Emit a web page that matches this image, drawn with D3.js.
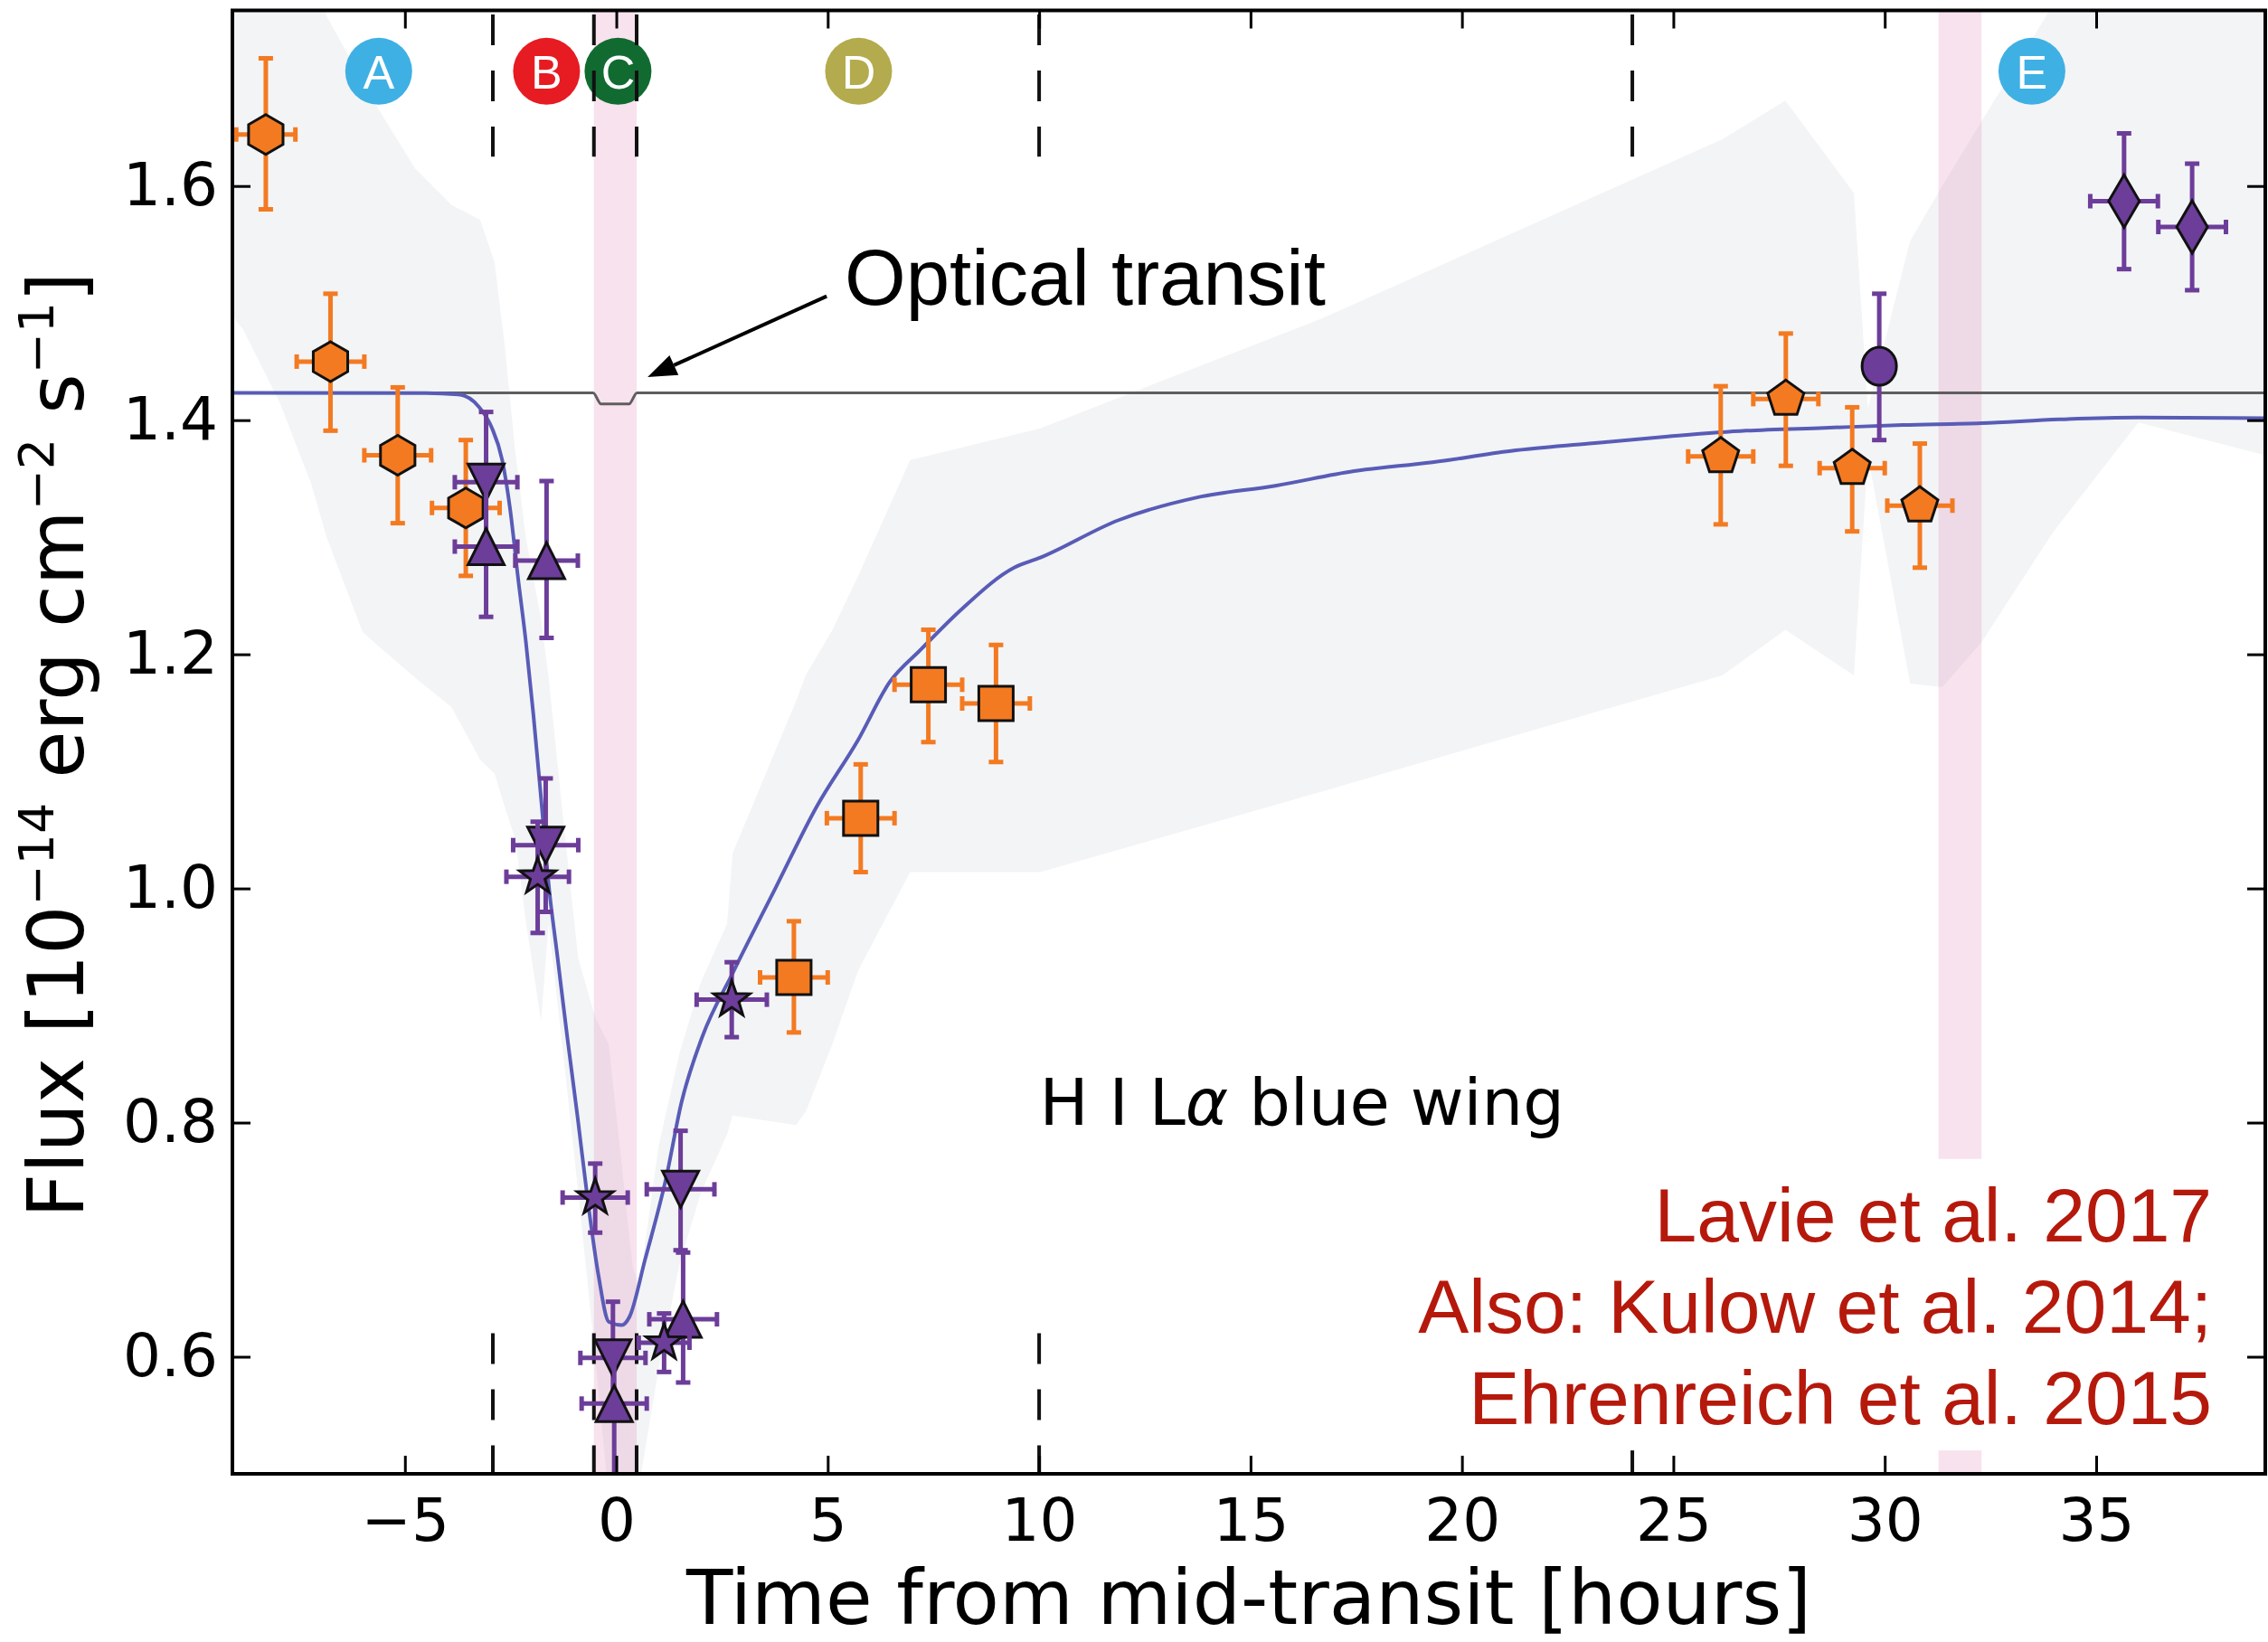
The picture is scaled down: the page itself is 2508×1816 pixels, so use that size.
<!DOCTYPE html>
<html>
<head>
<meta charset="utf-8">
<script src="https://cdn.jsdelivr.net/npm/d3@7"></script>
<style>
  html, body { margin: 0; padding: 0; background: #fff; }
  svg { display: block; }
  text { white-space: pre; }
</style>
</head>
<body>
<div id="chart"></div>
<script>
// ---- axis ticks ----
const timeTicks = [-5, 0, 5, 10, 15, 20, 25, 30, 35];
const fluxTicks = [0.6, 0.8, 1.0, 1.2, 1.4, 1.6];

// ---- model light curve (blue line), [hours, flux] ----
const modelCurve = [
  [-9.08, 1.4234], [-4.5, 1.4232], [-3.74, 1.422], [-3.25, 1.4114], [-2.95, 1.394],
  [-2.70, 1.366], [-2.51, 1.3235], [-2.33, 1.267], [-2.14, 1.211], [-1.96, 1.148],
  [-1.78, 1.077], [-1.59, 1.000], [-1.40, 0.944], [-1.16, 0.873], [-0.91, 0.803],
  [-0.67, 0.732], [-0.42, 0.669], [-0.18, 0.630], [0.13, 0.627], [0.31, 0.634],
  [0.68, 0.683], [1.18, 0.753], [1.54, 0.817], [2.03, 0.873], [2.77, 0.929],
  [3.76, 1.000], [4.74, 1.070], [5.72, 1.127], [6.46, 1.176], [7.20, 1.204],
  [8.18, 1.239], [9.41, 1.274], [10.03, 1.2826], [11.88, 1.3146], [13.74, 1.334],
  [15.59, 1.344], [17.45, 1.3565], [19.30, 1.364], [21.16, 1.3737], [23.01, 1.380],
  [24.87, 1.386], [26.72, 1.391], [28.57, 1.3934], [30.43, 1.3958], [32.28, 1.3974],
  [34.14, 1.4007], [35.99, 1.4022], [39.0, 1.4017]
];

// ---- optical transit (grey line) ----
const opticalCurve = [
  [-9.08, 1.4234], [-0.55, 1.4234], [-0.36, 1.4138], [0.30, 1.4138], [0.49, 1.4234], [39.0, 1.4234]
];

// ---- model envelope, [hours, lower, upper] ----
const envelope = [
  [-9.1, 1.49, 1.80], [-8.82, 1.477, 1.80], [-7.96, 1.415, 1.80], [-7.22, 1.346, 1.78],
  [-6.85, 1.30, 1.745], [-6.0, 1.219, 1.69], [-5.75, 1.211, 1.673], [-4.76, 1.18, 1.615],
  [-3.90, 1.155, 1.584], [-3.22, 1.11, 1.571], [-2.88, 1.098, 1.535], [-2.64, 1.07, 1.464],
  [-2.39, 1.042, 1.373], [-2.14, 0.972, 1.30], [-1.78, 0.887, 1.23], [-1.60, 0.97, 1.18],
  [-1.20, 0.84, 1.04], [-0.90, 0.74, 0.94], [-0.50, 0.60, 0.89], [-0.18, 0.48, 0.867],
  [0.39, 0.45, 0.676], [0.54, 0.49, 0.66], [1.0, 0.59, 0.78], [1.5, 0.68, 0.86],
  [2.0, 0.74, 0.92], [2.62, 0.79, 0.97], [2.75, 0.806, 1.03], [4.25, 0.798, 1.16],
  [4.49, 0.81, 1.183], [5.10, 0.866, 1.22], [5.72, 0.93, 1.267], [6.95, 1.014, 1.366],
  [10.03, 1.014, 1.393], [16.7, 1.083, 1.487], [26.16, 1.182, 1.64], [27.65, 1.221, 1.673],
  [29.27, 1.182, 1.594], [29.6, 1.37, 1.41], [30.6, 1.175, 1.553], [31.36, 1.172, 1.60],
  [32.3, 1.211, 1.656], [33.9, 1.30, 1.75], [34.1, 1.31, 1.80], [36.0, 1.398, 1.80],
  [39.1, 1.369, 1.80]
];

// ---- shaded transit windows [start, end] in hours ----
const transitBands = [[-0.53, 0.48], [31.27, 32.29]];

// ---- dashed phase boundaries (hours) ----
const phaseBounds = [-2.92, -0.53, 0.48, 10.0, 24.03];

// ---- phase labels ----
const phaseNames = ["A", "B", "C", "D", "E"];
const phaseTimes = [-5.62, -1.65, 0.04, 5.73, 33.48];
const phaseColors = ["#3fb0e4", "#e71b22", "#116b31", "#b3ab4d", "#3fb0e4"];

// ---- observations: [hours, flux, hoursErr, fluxErrDown, fluxErrUp] ----
const orangeHexagons = [
  [-8.29, 1.644, 0.70, 0.064, 0.065],
  [-6.76, 1.450, 0.80, 0.059, 0.058],
  [-5.17, 1.370, 0.79, 0.058, 0.058],
  [-3.56, 1.325, 0.80, 0.058, 0.058]
];
const orangeSquares = [
  [4.20, 0.924, 0.80, 0.047, 0.048],
  [5.78, 1.060, 0.80, 0.046, 0.046],
  [7.38, 1.174, 0.80, 0.049, 0.047],
  [8.98, 1.158, 0.80, 0.050, 0.050]
];
const orangePentagons = [
  [26.12, 1.369, 0.77, 0.058, 0.060],
  [27.66, 1.418, 0.77, 0.057, 0.056],
  [29.23, 1.359, 0.77, 0.054, 0.052],
  [30.83, 1.327, 0.77, 0.053, 0.053]
];
const purpleDown = [
  [-3.08, 1.347, 0.74, 0.060, 0.060],
  [-1.67, 1.037, 0.77, 0.057, 0.057],
  [-0.08, 0.599, 0.77, 0.048, 0.048],
  [1.52, 0.743, 0.80, 0.052, 0.050]
];
const purpleUp = [
  [-3.08, 1.292, 0.74, 0.060, 0.058],
  [-1.65, 1.280, 0.74, 0.066, 0.068],
  [-0.05, 0.560, 0.77, 0.070, 0.045],
  [1.58, 0.632, 0.80, 0.054, 0.057]
];
const purpleStars = [
  [-1.86, 1.010, 0.74, 0.048, 0.047],
  [-0.50, 0.736, 0.77, 0.030, 0.029],
  [1.13, 0.612, 0.60, 0.025, 0.025],
  [2.73, 0.905, 0.83, 0.032, 0.032]
];
const purpleCircles = [
  [29.87, 1.446, 0, 0.063, 0.062]
];
const purpleDiamonds = [
  [35.66, 1.587, 0.80, 0.058, 0.058],
  [37.27, 1.565, 0.80, 0.054, 0.054]
];

// ---- text annotations (data coordinates) ----
const arrowTail = [4.975, 1.5058];
const arrowTip = [0.74, 1.4368];
const opticalLabelPos = [5.40, 1.4986];
const lineLabelPos = [10.01, 0.798];
const creditLines = ["Lavie et al. 2017", "Also: Kulow et al. 2014;", "Ehrenreich et al. 2015"];
const creditBaselines = [0.6983, 0.6207, 0.5423];
const creditRight = 37.74;
const creditBox = [18.1, 39.1, 0.520, 0.769];

const orange = "#f37a21";
const purple = "#6c3d99";

const W = 2508, H = 1816;
const margin = { top: 11.5, right: 3, bottom: 186, left: 257 };

const x = d3.scaleLinear().domain([-9.08, 39.0]).range([margin.left, W - margin.right]);
const y = d3.scaleLinear().domain([0.5, 1.75]).range([H - margin.bottom, margin.top]);

const svg = d3.select("#chart").append("svg")
  .attr("width", W)
  .attr("height", H);

svg.append("defs").append("clipPath").attr("id", "plot-clip")
  .append("rect")
  .attr("x", margin.left).attr("y", margin.top)
  .attr("width", W - margin.left - margin.right)
  .attr("height", H - margin.top - margin.bottom);

const plot = svg.append("g").attr("clip-path", "url(#plot-clip)");

// envelope
const area = d3.area()
  .x(d => x(d[0]))
  .y0(d => y(d[1]))
  .y1(d => y(d[2]));
plot.append("path").datum(envelope)
  .attr("d", area)
  .attr("fill", "#f3f4f6");

// transit bands
plot.selectAll(".band").data(transitBands).enter().append("rect")
  .attr("class", "band")
  .attr("x", d => x(d[0]))
  .attr("width", d => x(d[1]) - x(d[0]))
  .attr("y", y(1.75))
  .attr("height", y(0.5) - y(1.75))
  .attr("fill", "#dd6eaa")
  .attr("fill-opacity", 0.2);

// phase circles
const phases = plot.selectAll(".phase").data(phaseNames).enter().append("g")
  .attr("class", "phase")
  .attr("transform", (d, i) => `translate(${x(phaseTimes[i])},${y(1.698)})`);
phases.append("circle").attr("r", 37).attr("fill", (d, i) => phaseColors[i]);
phases.append("text")
  .attr("text-anchor", "middle")
  .attr("dy", "0.36em")
  .attr("fill", "#fff")
  .style("font-family", "Liberation Sans, Arial, sans-serif")
  .style("font-size", "52px")
  .text(d => d);

// dashed phase boundaries
phaseBounds.forEach(t => {
  plot.append("line")
    .attr("x1", x(t)).attr("x2", x(t))
    .attr("y1", y(1.75)).attr("y2", y(1.625))
    .attr("stroke", "#111").attr("stroke-width", 4)
    .attr("stroke-dasharray", "34 28").attr("stroke-dashoffset", 57.5);
  plot.append("line")
    .attr("x1", x(t)).attr("x2", x(t))
    .attr("y1", y(0.62)).attr("y2", y(0.5))
    .attr("stroke", "#111").attr("stroke-width", 4)
    .attr("stroke-dasharray", "34 28");
});

// optical transit line
const line = d3.line().x(d => x(d[0])).y(d => y(d[1])).curve(d3.curveMonotoneX);
plot.append("path").datum(opticalCurve)
  .attr("d", line)
  .attr("fill", "none")
  .attr("stroke", "#5e5e5e")
  .attr("stroke-width", 3);

// model
plot.append("path").datum(modelCurve)
  .attr("d", line)
  .attr("fill", "none")
  .attr("stroke", "#585cb6")
  .attr("stroke-width", 4);

// marker shapes
function polygonPath(n, r) {
  const pts = d3.range(n).map(i => {
    const a = i * 2 * Math.PI / n;
    return [r * Math.sin(a), -r * Math.cos(a)];
  });
  return "M" + pts.join("L") + "Z";
}
function starPath(r) {
  const pts = d3.range(10).map(i => {
    const a = i * Math.PI / 5;
    const rr = i % 2 === 0 ? r : r * 0.4;
    return [rr * Math.sin(a), -rr * Math.cos(a)];
  });
  return "M" + pts.join("L") + "Z";
}
const shapes = {
  hexagon: polygonPath(6, 22),
  square: "M-19,-19H19V19H-19Z",
  pentagon: polygonPath(5, 21),
  triDown: "M-20,-20L20,-20L0,20Z",
  triUp: "M0,-20L20,20L-20,20Z",
  star: starPath(21),
  circle: "M0,-21A19,21 0 1,1 0,21A19,21 0 1,1 0,-21Z",
  diamond: "M0,-29L17,0L0,29L-17,0Z"
};

const seriesList = [
  { data: orangeHexagons, color: orange, shape: "hexagon" },
  { data: orangeSquares, color: orange, shape: "square" },
  { data: orangePentagons, color: orange, shape: "pentagon" },
  { data: purpleDown, color: purple, shape: "triDown" },
  { data: purpleUp, color: purple, shape: "triUp" },
  { data: purpleStars, color: purple, shape: "star" },
  { data: purpleCircles, color: purple, shape: "circle" },
  { data: purpleDiamonds, color: purple, shape: "diamond" }
];

const cap = 8;
seriesList.forEach(s => {
  const g = plot.append("g");
  const eb = g.selectAll(".eb").data(s.data).enter().append("g").attr("class", "eb")
    .attr("stroke", s.color).attr("stroke-width", 5);
  // vertical
  eb.append("line")
    .attr("x1", d => x(d[0])).attr("x2", d => x(d[0]))
    .attr("y1", d => y(d[1] - d[3])).attr("y2", d => y(d[1] + d[4]));
  eb.append("line")
    .attr("x1", d => x(d[0]) - cap).attr("x2", d => x(d[0]) + cap)
    .attr("y1", d => y(d[1] - d[3])).attr("y2", d => y(d[1] - d[3]));
  eb.append("line")
    .attr("x1", d => x(d[0]) - cap).attr("x2", d => x(d[0]) + cap)
    .attr("y1", d => y(d[1] + d[4])).attr("y2", d => y(d[1] + d[4]));
  // horizontal
  const hz = eb.filter(d => d[2] > 0);
  hz.append("line")
    .attr("x1", d => x(d[0] - d[2])).attr("x2", d => x(d[0] + d[2]))
    .attr("y1", d => y(d[1])).attr("y2", d => y(d[1]));
  hz.append("line")
    .attr("x1", d => x(d[0] - d[2])).attr("x2", d => x(d[0] - d[2]))
    .attr("y1", d => y(d[1]) - cap).attr("y2", d => y(d[1]) + cap);
  hz.append("line")
    .attr("x1", d => x(d[0] + d[2])).attr("x2", d => x(d[0] + d[2]))
    .attr("y1", d => y(d[1]) - cap).attr("y2", d => y(d[1]) + cap);

  g.selectAll(".mk").data(s.data).enter().append("path").attr("class", "mk")
    .attr("d", shapes[s.shape])
    .attr("transform", d => `translate(${x(d[0])},${y(d[1])})`)
    .attr("fill", s.color)
    .attr("stroke", "#111")
    .attr("stroke-width", 3)
    .attr("stroke-linejoin", "miter");
});

// annotation: optical transit arrow
const tx = x(arrowTail[0]), ty = y(arrowTail[1]);
const hx = x(arrowTip[0]), hy = y(arrowTip[1]);
const ang = Math.atan2(hy - ty, hx - tx);
const headLen = 32, headW = 12;
const bx = hx - headLen * Math.cos(ang), by = hy - headLen * Math.sin(ang);
svg.append("line")
  .attr("x1", tx).attr("y1", ty).attr("x2", bx).attr("y2", by)
  .attr("stroke", "#000").attr("stroke-width", 4);
svg.append("path")
  .attr("d", `M${hx},${hy}L${bx - headW * Math.sin(ang)},${by + headW * Math.cos(ang)}L${bx + headW * Math.sin(ang)},${by - headW * Math.cos(ang)}Z`)
  .attr("fill", "#000");
svg.append("text")
  .attr("x", x(opticalLabelPos[0])).attr("y", y(opticalLabelPos[1]))
  .style("font-family", "Liberation Sans, Arial, sans-serif")
  .style("font-size", "87px")
  .text("Optical transit");

// line label
const lab = svg.append("text")
  .attr("x", x(lineLabelPos[0])).attr("y", y(lineLabelPos[1]))
  .style("font-family", "DejaVu Sans, sans-serif")
  .style("font-size", "72px");
lab.append("tspan").text("H I L");
lab.append("tspan").style("font-style", "italic").text("α");
lab.append("tspan").text(" blue wing");

// credits with white box
plot.append("rect")
  .attr("x", x(creditBox[0])).attr("width", x(creditBox[1]) - x(creditBox[0]))
  .attr("y", y(creditBox[3])).attr("height", y(creditBox[2]) - y(creditBox[3]))
  .attr("fill", "#fff");
svg.selectAll(".credit").data(creditLines).enter().append("text")
  .attr("class", "credit")
  .attr("x", x(creditRight))
  .attr("y", (d, i) => y(creditBaselines[i]))
  .attr("text-anchor", "end")
  .attr("fill", "#b5190c")
  .style("font-family", "Liberation Sans, Arial, sans-serif")
  .style("font-size", "84px")
  .text(d => d);

// axes
const tickFont = g => g.selectAll("text")
  .style("font-family", "DejaVu Sans, sans-serif")
  .style("font-size", "66px")
  .attr("fill", "#000");
const tickLines = g => {
  g.select(".domain").remove();
  g.selectAll(".tick line").attr("stroke", "#000").attr("stroke-width", 3);
};

svg.append("g")
  .attr("transform", `translate(0,${y(0.5)})`)
  .call(d3.axisBottom(x).tickValues(timeTicks).tickSizeInner(-20).tickSizeOuter(0)
    .tickPadding(27).tickFormat(d3.format("d")))
  .call(tickLines).call(tickFont);

svg.append("g")
  .attr("transform", `translate(0,${y(1.75)})`)
  .call(d3.axisTop(x).tickValues(timeTicks).tickSizeInner(-20).tickSizeOuter(0).tickFormat(""))
  .call(tickLines);

svg.append("g")
  .attr("transform", `translate(${x.range()[0]},0)`)
  .call(d3.axisLeft(y).tickValues(fluxTicks).tickSizeInner(-20).tickSizeOuter(0)
    .tickPadding(16).tickFormat(d3.format(".1f")))
  .call(tickLines).call(tickFont);

svg.append("g")
  .attr("transform", `translate(${x.range()[1]},0)`)
  .call(d3.axisRight(y).tickValues(fluxTicks).tickSizeInner(-20).tickSizeOuter(0).tickFormat(""))
  .call(tickLines);

svg.append("rect")
  .attr("x", x.range()[0]).attr("y", y.range()[1])
  .attr("width", x.range()[1] - x.range()[0])
  .attr("height", y.range()[0] - y.range()[1])
  .attr("fill", "none")
  .attr("stroke", "#000")
  .attr("stroke-width", 4);

// axis titles
svg.append("text")
  .attr("x", (x.range()[0] + x.range()[1]) / 2)
  .attr("y", 1796)
  .attr("text-anchor", "middle")
  .style("font-family", "DejaVu Sans, sans-serif")
  .style("font-size", "84px")
  .text("Time from mid-transit [hours]");

const yTitle = svg.append("text")
  .attr("transform", `translate(92,${(y.range()[0] + y.range()[1]) / 2 + 3}) rotate(-90)`)
  .attr("text-anchor", "middle")
  .style("font-family", "DejaVu Sans, sans-serif")
  .style("font-size", "85px");
yTitle.append("tspan").text("Flux [10");
yTitle.append("tspan").attr("dy", -33).style("font-size", "54px").text("−14");
yTitle.append("tspan").attr("dy", 33).text(" erg cm");
yTitle.append("tspan").attr("dy", -33).style("font-size", "54px").text("−2");
yTitle.append("tspan").attr("dy", 33).text(" s");
yTitle.append("tspan").attr("dy", -33).style("font-size", "54px").text("−1");
yTitle.append("tspan").attr("dy", 33).text("]");
</script>
</body>
</html>
